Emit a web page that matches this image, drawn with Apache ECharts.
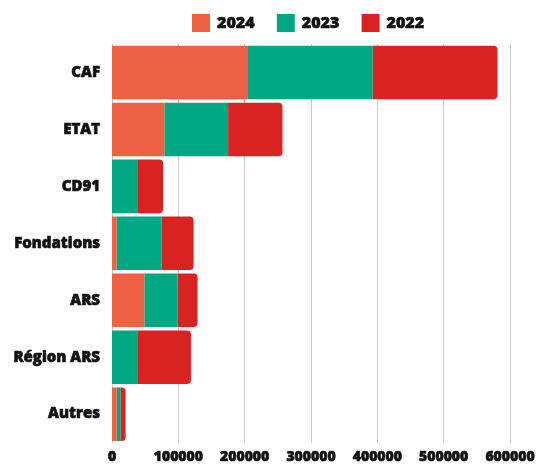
<!DOCTYPE html>
<html>
<head>
<meta charset="utf-8">
<script src="https://cdn.jsdelivr.net/npm/echarts@6/dist/echarts.min.js"></script>
<style>
	html, body { margin: 0; padding: 0; background: #fff; }
	#chart { width: 540px; height: 464px; }
</style>
</head>
<body>
<div id="chart"></div>
<script>
// catégories (de haut en bas)
var categories = ['CAF', 'ETAT', 'CD91', 'Fondations', 'ARS', 'Région ARS', 'Autres'];

// valeurs par année
var values2024 = [205000, 79000, 0, 7000, 49000, 0, 7000];
var values2023 = [188000, 96000, 38000, 68000, 50000, 38000, 6000];
var values2022 = [188000, 82000, 39000, 48000, 30000, 81000, 7500];

var seriesNames = ['2024', '2023', '2022'];
var colors = ['#EE6142', '#02A784', '#D92323'];

var fontFamily = '"Open Sans", "Noto Sans", sans-serif';

// texte gras épais
var boldText = {
	fontFamily: fontFamily,
	fontWeight: 800,
	color: '#111',
	textBorderColor: '#111',
	textBorderWidth: 0.6
};

var myChart = echarts.init(document.getElementById('chart'));

function makeSeries(name, data, last) {
	return {
		name: name,
		type: 'bar',
		stack: 'total',
		barCategoryGap: '6%',
		data: data,
		itemStyle: last ? { borderRadius: [0, 4, 4, 0] } : {},
		emphasis: { disabled: true }
	};
}

var option = {
	animation: false,
	color: colors,
	legend: {
		top: 14,
		left: 192,
		padding: 0,
		itemWidth: 18,
		itemHeight: 18,
		itemGap: 22,
		icon: 'rect',
		textStyle: Object.assign({ fontSize: 16, padding: [0, 0, 0, 2] }, boldText),
		data: seriesNames
	},
	grid: { left: 112, right: 30, top: 44, bottom: 16 },
	xAxis: {
		type: 'value',
		min: 0,
		max: 600000,
		interval: 100000,
		axisLine: { show: false },
		axisTick: { show: false },
		splitLine: { lineStyle: { color: '#cccccc', width: 1 } },
		axisLabel: Object.assign({
			fontSize: 14, margin: 7,
			formatter: function (v) { return String(v); }
		}, boldText)
	},
	yAxis: {
		type: 'category',
		inverse: true,
		data: categories,
		axisLine: { show: false },
		axisTick: { show: false },
		axisLabel: Object.assign({ fontSize: 15, margin: 12 }, boldText)
	},
	series: [
		makeSeries('2024', values2024, false),
		makeSeries('2023', values2023, false),
		makeSeries('2022', values2022, true)
	]
};

myChart.setOption(option);
</script>
</body>
</html>
